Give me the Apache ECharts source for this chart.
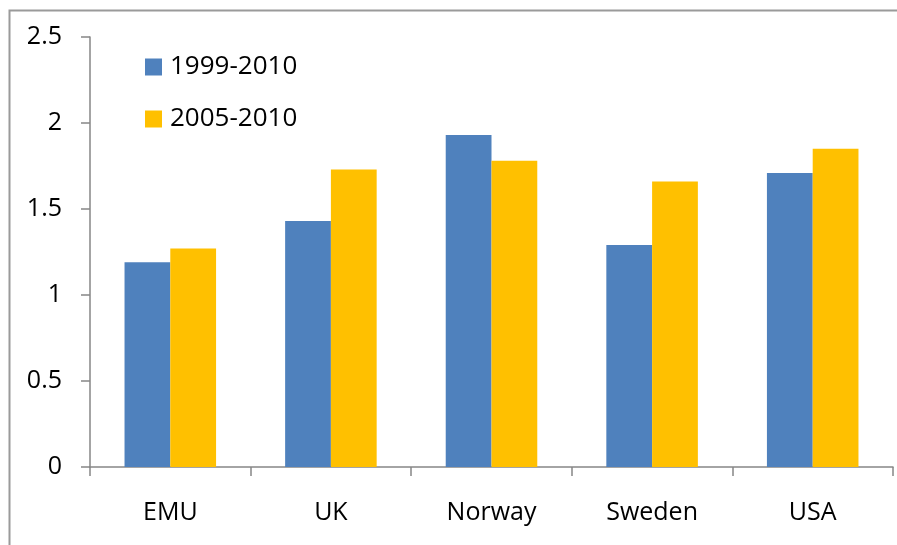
<!DOCTYPE html>
<html>
<head>
<meta charset="utf-8">
<script src="https://cdn.jsdelivr.net/npm/echarts@6/dist/echarts.min.js"></script>
<style>
  html, body { margin: 0; padding: 0; background: #fff; }
  #chart { width: 897px; height: 545px; }
</style>
</head>
<body>
<div id="chart"></div>
<script>
const categories = ['EMU', 'UK', 'Norway', 'Sweden', 'USA'];
const seriesNames = ['1999-2010', '2005-2010'];
const values9910 = [1.19, 1.43, 1.93, 1.29, 1.71];
const values0510 = [1.27, 1.73, 1.78, 1.66, 1.85];
const colors = ['#4F81BD', '#FFC000'];

const font = 'Open Sans';
const axisColor = '#868686';

const chart = echarts.init(document.getElementById('chart'));
const option = {
  animation: false,
  color: colors,
  textStyle: { fontFamily: font },
  graphic: [{
    // outer chart frame (right and bottom edges fall off the picture)
    type: 'rect',
    shape: { x: 9.5, y: 10.5, width: 1000, height: 1000 },
    style: { fill: null, stroke: '#9a9a9a', lineWidth: 2 },
    z: -1
  }],
  legend: {
    orient: 'vertical',
    left: 145,
    top: 49,
    padding: [5, 0, 5, 0],
    itemWidth: 17,
    itemHeight: 17,
    itemGap: 26,
    icon: 'rect',
    textStyle: { fontFamily: font, fontSize: 26, color: '#000', padding: [0, 0, 0, 3] },
    data: seriesNames
  },
  grid: { left: 90, right: 4, top: 37, bottom: 78, containLabel: false },
  xAxis: {
    type: 'category',
    data: categories,
    axisLine: { lineStyle: { color: axisColor, width: 1.5 } },
    axisTick: { show: true, length: 9, alignWithLabel: false, lineStyle: { color: axisColor, width: 1.5 } },
    axisLabel: { fontFamily: font, fontSize: 25, color: '#000', margin: 33 },
    splitLine: { show: false }
  },
  yAxis: {
    type: 'value',
    min: 0,
    max: 2.5,
    interval: 0.5,
    axisLine: { show: true, lineStyle: { color: axisColor, width: 1.5 } },
    axisTick: { show: true, length: 9, lineStyle: { color: axisColor, width: 1.5 } },
    axisLabel: { fontFamily: font, fontSize: 25, color: '#000', margin: 28 },
    splitLine: { show: false }
  },
  series: [
    {
      name: seriesNames[0],
      type: 'bar',
      data: values9910,
      barGap: '0%',
      barCategoryGap: '43%'
    },
    {
      name: seriesNames[1],
      type: 'bar',
      data: values0510,
      barGap: '0%',
      barCategoryGap: '43%'
    }
  ]
};
chart.setOption(option);
</script>
</body>
</html>
